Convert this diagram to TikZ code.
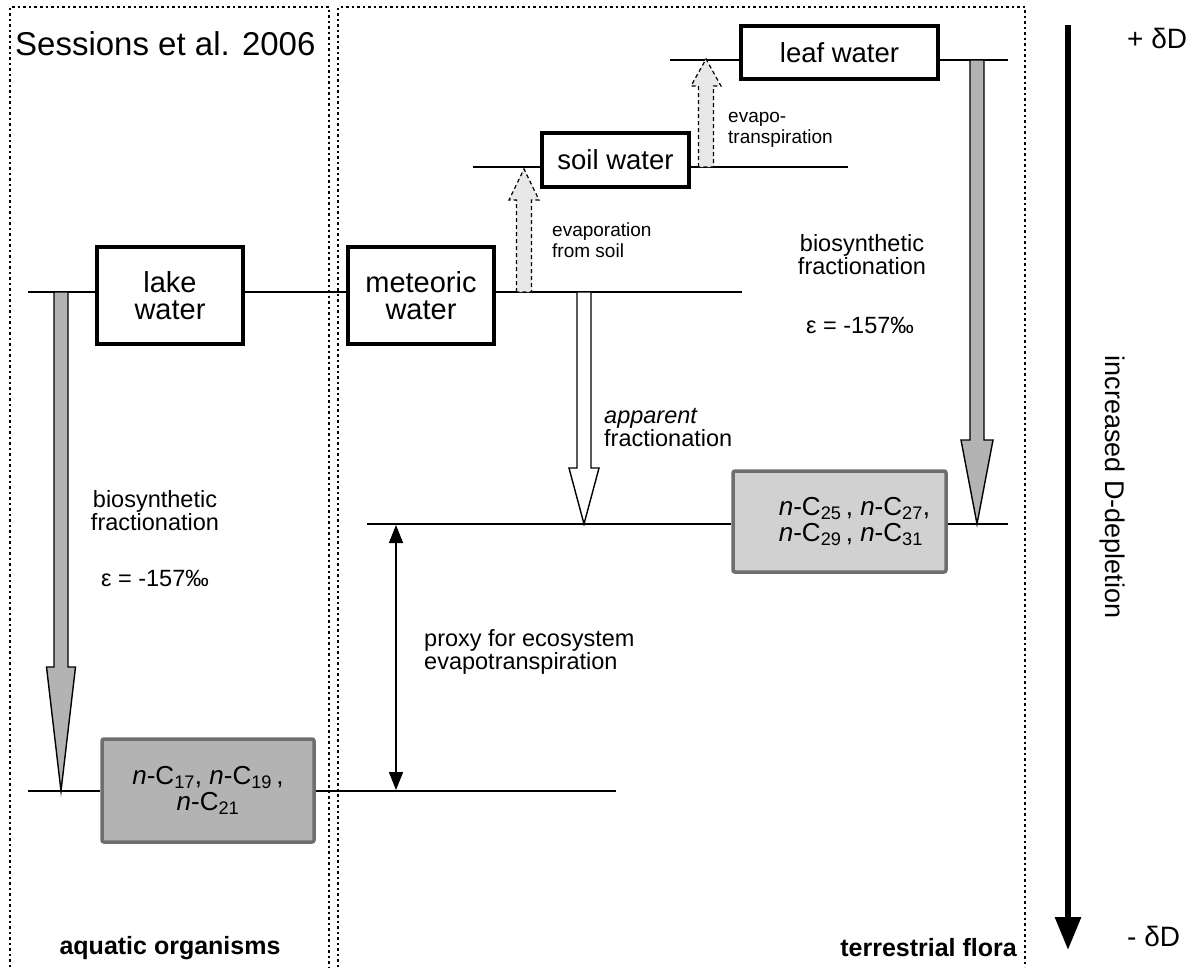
\documentclass[tikz,border=0pt]{standalone}
\usepackage{fontspec}
\setmainfont{Liberation Sans}
\usetikzlibrary{arrows.meta,calc}
\definecolor{midgray}{HTML}{B3B3B3}
\definecolor{litegray}{HTML}{D1D1D1}
\definecolor{palegray}{HTML}{E8E8E8}
\definecolor{edgegray}{HTML}{6E6E6E}
% style, from, to, half shaft, half head, head length
\newcommand{\fatarrow}[6]{%
  \path (#2) coordinate (fas) (#3) coordinate (fat);
  \coordinate (fab) at ($(fat)!#6!(fas)$);
  \draw[#1] ($(fas)+(-#4,0)$) -- ($(fab)+(-#4,0)$) -- ($(fab)+(-#5,0)$) -- (fat)
    -- ($(fab)+(#5,0)$) -- ($(fab)+(#4,0)$) -- ($(fas)+(#4,0)$) -- cycle;}
\begin{document}
\begin{tikzpicture}[x=1pt,y=-1pt,
  wbox/.style={draw=black, line width=3.5pt, fill=white, align=center, inner sep=0pt,
    font=\fontsize{27.5}{27}\selectfont},
  bigwbox/.style={wbox, font=\fontsize{29}{27.5}\selectfont},
  gbox/.style={draw=edgegray, line width=3.5pt, rounded corners=2pt, inner sep=0pt,
    font=\fontsize{26}{26}\selectfont},
  lbl/.style={align=center, inner sep=0pt, font=\fontsize{23.5}{23}\selectfont},
  lbll/.style={align=left, inner sep=0pt, font=\fontsize{23.5}{23}\selectfont},
  smalllbl/.style={align=left, inner sep=0pt, font=\fontsize{19}{20.5}\selectfont},
  boldlbl/.style={inner sep=0pt, font=\fontsize{25}{25}\selectfont\bfseries},
  framedash/.style={line width=1.5pt, dash pattern=on 2.5pt off 3pt},
  lvl/.style={line width=1.4pt},
  bio/.style={draw=black, line width=1.4pt, fill=midgray},
  appar/.style={draw=black, line width=1.4pt, fill=white},
  evap/.style={draw=black, line width=1.2pt, dash pattern=on 4pt off 3pt, fill=palegray},
]
\useasboundingbox (0,0) rectangle (1191,967);

% frames
\draw[framedash] (10,967) -- (10,7) -- (329,7) -- (329,967);
\draw[framedash] (338,967) -- (338,7) -- (1025,7) -- (1025,967);

\node[anchor=base west, inner sep=0pt, font=\fontsize{33}{33}\selectfont] (title) at (15,55) {Sessions et al. 2006};

% boxes
\node[bigwbox, minimum width=146pt, minimum height=97pt] (lake) at (170,295.5) {lake\\water};
\node[bigwbox, minimum width=146pt, minimum height=97pt] (met) at (421,295.5) {meteoric\\water};
\node[wbox, minimum width=147pt, minimum height=54pt] (soil) at (615.5,160) {soil water};
\node[wbox, minimum width=197pt, minimum height=53pt] (leaf) at (839.5,52.5) {leaf water};
\node[gbox, fill=litegray, align=left, minimum width=213pt, minimum height=101pt] (terr) at (839.5,521.5)
  {\hspace*{30pt}\textit{n}-C\textsubscript{25}\,, \textit{n}-C\textsubscript{27},\\\hspace*{30pt}\textit{n}-C\textsubscript{29}\,, \textit{n}-C\textsubscript{31}};
\node[gbox, fill=midgray, align=center, minimum width=212pt, minimum height=103pt] (aq) at (208,790.5)
  {\textit{n}-C\textsubscript{17}, \textit{n}-C\textsubscript{19}\,,\\\textit{n}-C\textsubscript{21}};

% level coordinates
\coordinate (m0) at (28,292);
\coordinate (m1) at (742,292);
\coordinate (s0) at (473,167);
\coordinate (s1) at (848,167);
\coordinate (f0) at (670,60);
\coordinate (f1) at (1008,60);
\coordinate (t0) at (367,524);
\coordinate (t1) at (1008,524);
\coordinate (a0) at (28,791);
\coordinate (a1) at (616,791);

% level lines
\draw[lvl] (m0) -- (m0 -| lake.west);
\draw[lvl] (lake.east |- m0) -- (met.west |- m0);
\draw[lvl] (met.east |- m0) -- (m1);
\draw[lvl] (s0) -- (s0 -| soil.west);
\draw[lvl] (soil.east |- s0) -- (s1);
\draw[lvl] (f0) -- (f0 -| leaf.west);
\draw[lvl] (leaf.east |- f0) -- (f1);
\draw[lvl] (t0) -- (t0 -| terr.west);
\draw[lvl] (terr.east |- t0) -- (t1);
\draw[lvl] (a0) -- (a0 -| aq.west);
\draw[lvl] (aq.east |- a0) -- (a1);

% block arrows
\coordinate (lbA) at (61,292);  \coordinate (lbB) at (61,791);
\coordinate (rbA) at (977,60);  \coordinate (rbB) at (977,524);
\coordinate (apA) at (584,292); \coordinate (apB) at (584,524);
\coordinate (e1A) at (524,292); \coordinate (e1B) at (524,169);
\coordinate (e2A) at (706,167); \coordinate (e2B) at (706,59);
\fatarrow{bio}{lbA}{lbB}{7}{14.5}{124pt}
\fatarrow{bio}{rbA}{rbB}{7}{16}{84pt}
\fatarrow{appar}{apA}{apB}{7}{15}{56pt}
\fatarrow{evap}{e1A}{e1B}{7.5}{15}{31pt}
\fatarrow{evap}{e2A}{e2B}{7.5}{15}{27pt}

% proxy double arrow
\coordinate (pxA) at (396,525);
\coordinate (pxB) at (396,790);
\draw[line width=1.5pt, {Triangle[width=14pt,length=18pt]}-{Triangle[width=14pt,length=18pt]}] (pxA) -- (pxB);

% labels
\node[lbl] (lbio) at (155,511) {biosynthetic\\fractionation};
\node[lbl] (leps) at (155,578) {ε = -157‰};
\node[lbl] (rbio) at (862,255) {biosynthetic\\fractionation};
\node[lbl] (reps) at (860,325) {ε = -157‰};
\node[lbll, anchor=west] (appt) at (604,428) {\textit{apparent}\\fractionation};
\node[lbll, anchor=west] (proxy) at (424,652) {proxy for ecosystem\\evapotranspiration};
\node[smalllbl, anchor=west] (evs) at (552,240) {evaporation\\from soil};
\node[smalllbl, anchor=west] (evt) at (728,130) {evapo-\\transpiration};
\node[boldlbl] (aqlbl) at (170,948) {aquatic organisms};
\node[boldlbl, anchor=east] (trlbl) at (1017,948) {terrestrial flora};

% depletion axis
\coordinate (axA) at (1068,25);
\coordinate (axB) at (1068,950);
\draw[line width=6pt, -{Triangle[width=25pt,length=33pt]}] (axA) -- (axB);
\node[inner sep=0pt, anchor=west, font=\fontsize{28}{28}\selectfont] (plusd) at (1127,38) {+ δD};
\node[inner sep=0pt, anchor=west, font=\fontsize{28}{28}\selectfont] (minusd) at (1127,936) {- δD};
\node[inner sep=0pt, rotate=-90, font=\fontsize{27}{27}\selectfont] (incr) at (1112,487) {increased D-depletion};
\end{tikzpicture}
\end{document}
